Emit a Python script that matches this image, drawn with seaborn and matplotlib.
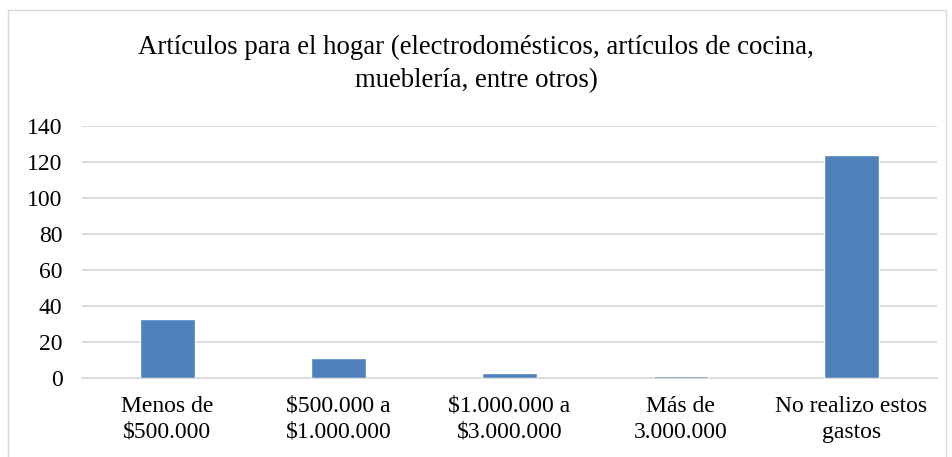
import matplotlib
matplotlib.use("Agg")
import matplotlib.pyplot as plt
import seaborn as sns
import pandas as pd
from matplotlib.patches import Rectangle

# datos
categorias = ["Menos de\n$500.000", "$500.000 a\n$1.000.000", "$1.000.000 a\n$3.000.000",
              "Más de\n3.000.000", "No realizo estos\ngastos"]
valores = [33, 11, 3, 1, 124]
y_ticks = [0, 20, 40, 60, 80, 100, 120, 140]
titulo = "Artículos para el hogar (electrodomésticos, artículos de cocina,\nmueblería, entre otros)"

sns.set_style("white")
plt.rcParams['font.family'] = ['Liberation Serif', 'DejaVu Serif']

df = pd.DataFrame({"categoria": categorias, "valor": valores})

fig = plt.figure(figsize=(9.52, 4.57), dpi=100)
ax = fig.add_axes([0.086, 0.173, 0.898, 0.551])

sns.barplot(data=df, x="categoria", y="valor", color="#4F81BD", saturation=1,
            width=0.32, ax=ax, zorder=3)

ax.set_ylim(0, 140)
ax.set_yticks(y_ticks)
ax.yaxis.grid(True, color="#D9D9D9", linewidth=1.3)
ax.set_axisbelow(True)
for s in ["top", "right", "left"]:
    ax.spines[s].set_visible(False)
ax.spines["bottom"].set_color("#D9D9D9")
ax.spines["bottom"].set_linewidth(1.3)
ax.spines["bottom"].set_zorder(0.5)
ax.tick_params(axis="both", length=0, labelsize=17, colors="#000000")
ax.tick_params(axis="y", pad=14)
ax.tick_params(axis="x", pad=13)
for lbl in ax.get_xticklabels():
    lbl.set_linespacing(1.3)
ax.set_xlabel("")
ax.set_ylabel("")

fig.text(0.5, 0.86, titulo, ha="center", va="center", fontsize=19.3,
         linespacing=1.45, color="#000000")

# borde del gráfico
fig.patches.append(Rectangle((8 / 952, -0.05), 938 / 952, 1 - 10 / 457 + 0.05,
                             transform=fig.transFigure, fill=False,
                             edgecolor="#D9D9D9", linewidth=1.0))

fig.savefig("out.png", dpi=100)
